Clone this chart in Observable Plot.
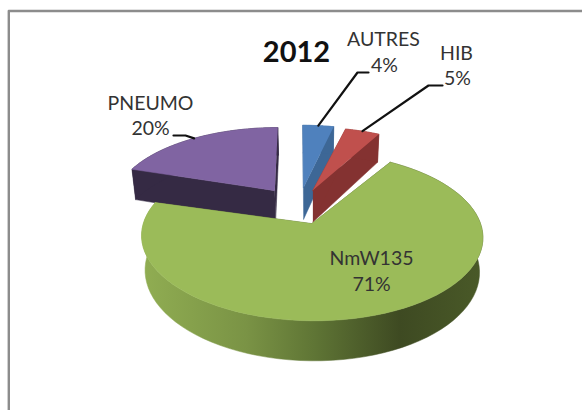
<!DOCTYPE html>
<html><head><meta charset="utf-8">
<script src="https://cdn.jsdelivr.net/npm/d3@7"></script>
<script src="https://cdn.jsdelivr.net/npm/@observablehq/plot@0.6"></script>
<style>html,body{margin:0;padding:0;background:#fff}svg{display:block}</style>
</head><body><div id="chart"></div>
<script>
const categories = ["AUTRES","HIB","NmW135","PNEUMO"];
const shares = [4,5,71,20];
const title = "2012";
const topColors = ["#4f81bd","#c0504d","#9bbb59","#8064a2"];
const wallColors = ["#3d6796","#843231","url(#wall)","#352a44"];
const explode = [0.25,0.23,0.235,0.255];
const arcTrim = [0.9,0.8,0.99,1];

// pie layout
const cx=298, cy=205.5, A=163, B=76.8, P=0.15, T=32.7, vanishX=314, shrink=0.98;
const total=d3.sum(shares);
let acc=0;
const slices=categories.map((name,i)=>{
  const a0=acc/total*2*Math.PI; acc+=shares[i];
  const full=acc/total*2*Math.PI;
  const a1=a0+(full-a0)*arcTrim[i];
  const mid=(a0+full)/2;
  const draw=(a0+a1)/2;
  return {name,i,a0,a1,mid:draw,ou:explode[i]*Math.sin(mid),ov:explode[i]*Math.cos(mid)};
});
const proj=(u,v,drop)=>{
  const w=1+P*v;
  const x=cx+A*u/w, y=cy-B*v/w;
  return drop ? [vanishX+(x-vanishX)*shrink, y+T/w] : [x,y];
};
const onArc=(s,a,drop)=>proj(s.ou+Math.sin(a),s.ov+Math.cos(a),drop);
const apex=(s,drop)=>proj(s.ou,s.ov,drop);
const arc=(s,drop)=>d3.range(0,81).map(k=>onArc(s,s.a0+(s.a1-s.a0)*k/80,drop));

const polys=[];
const add=(id,fill,pts)=>pts.forEach(p=>polys.push({id,fill,x:p[0],y:p[1]}));
// back to front: AUTRES, HIB, PNEUMO, NmW135
[0,1,3,2].forEach(i=>{
  const s=slices[i];
  const wall=wallColors[i];
  add(`${i}a`,wall,[apex(s,0),onArc(s,s.a1,0),onArc(s,s.a1,1),apex(s,1)]);
  add(`${i}b`,wall,[apex(s,0),onArc(s,s.a0,0),onArc(s,s.a0,1),apex(s,1)]);
  add(`${i}c`,wall,[...arc(s,0),...arc(s,1).reverse()]);
  add(`${i}d`,topColors[i],[apex(s,0),...arc(s,0)]);
});

const labels=[
 {t:categories[0],x:383,y:39},{t:shares[0]+"%",x:384,y:65},
 {t:categories[1],x:456,y:53},{t:shares[1]+"%",x:457,y:78},
 {t:categories[3],x:150,y:103},{t:shares[3]+"%",x:150,y:128},
 {t:categories[2],x:371,y:258},{t:shares[2]+"%",x:371,y:284}
];
const lead=(i,rest)=>[onArc(slices[i],slices[i].mid,0),...rest].map(p=>({i,x:p[0],y:p[1]}));
const leaders=[...lead(0,[[357,72],[368,72]]),...lead(1,[[428,85],[442,85]]),...lead(3,[[185,135],[173,135]])];

const plot=Plot.plot({
  width:582,height:410,margin:0,
  x:{domain:[0,582],range:[0,582],axis:null},
  y:{domain:[0,410],range:[0,410],axis:null},
  style:{background:"#fff"},
  marks:[
    Plot.line([[8.3,410],[8.3,10.5],[582,10.5]],{x:d=>d[0],y:d=>d[1],stroke:"#8c8c8c",strokeWidth:2.4}),
    Plot.line(polys,{x:"x",y:"y",z:"id",fill:"fill",stroke:"fill",strokeWidth:0.5,curve:"linear"}),
    Plot.line(leaders,{x:"x",y:"y",z:"i",stroke:"#111",strokeWidth:2.2}),
    Plot.text(labels,{x:"x",y:"y",text:"t",fill:"#333",fontSize:19.5,fontFamily:"Lato"}),
    Plot.text([title],{x:()=>296,y:()=>52,text:d=>d,fill:"#111",fontSize:29,fontWeight:700,fontFamily:"Lato"})
  ]
});
const defs=d3.create("svg:defs");
const g=defs.append("linearGradient").attr("id","wall").attr("gradientUnits","userSpaceOnUse").attr("x1",143).attr("x2",485).attr("y1",0).attr("y2",0);
[[0,"#90ad52"],[0.3,"#7a9345"],[0.5,"#5f7535"],[0.75,"#3e4a22"],[1,"#4a5a28"]].forEach(([o,c])=>g.append("stop").attr("offset",o).attr("stop-color",c));
plot.prepend(defs.node());
document.getElementById("chart").append(plot);
</script></body></html>
